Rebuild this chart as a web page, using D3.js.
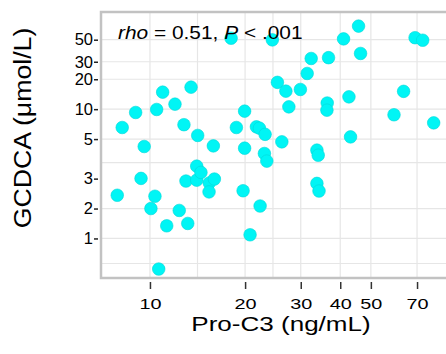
<!DOCTYPE html>
<html>
<head>
<meta charset="utf-8">
<script src="https://cdn.jsdelivr.net/npm/d3@7"></script>
<style>
  html, body { margin: 0; padding: 0; background: #fff; overflow: hidden; }
  text { font-family: "Liberation Sans", Arial, sans-serif; fill: #000; }
</style>
</head>
<body>
<div id="chart"></div>
<script>
// Pro-C3 (ng/mL) per patient
const proC3 = [7.88, 8.17, 9.01, 9.37, 9.59, 10.07, 10.37, 10.50, 10.66, 10.97,
  11.30, 12.00, 12.38, 12.81, 13.00, 13.17, 13.49, 14.06, 14.06, 14.16,
  14.50, 15.41, 15.38, 15.87, 15.99, 18.06, 18.77, 19.71, 19.93, 19.93,
  20.74, 21.72, 22.20, 22.31, 23.02, 23.14, 23.43, 24.39, 25.31, 26.14,
  26.92, 27.51, 29.92, 31.44, 32.37, 33.75, 34.07, 33.75, 34.27, 36.38,
  36.30, 36.73, 40.98, 42.62, 43.12, 45.71, 46.38, 59.18, 63.47, 69.00,
  72.94, 79.02];
// GCDCA (umol/L), in the units of the log axis
const gcdca = [1.36, 6.54, 9.26, 2.01, 4.21, 1.00, 1.33, 9.93, 0.246, 14.83,
  0.670, 11.23, 0.957, 6.98, 1.89, 0.708, 16.65, 2.67, 1.93, 5.44,
  2.31, 1.81, 1.47, 4.27, 1.98, 51.8, 6.54, 1.51, 9.55, 4.05,
  0.544, 6.64, 6.44, 1.06, 3.58, 5.58, 3.00, 49.8, 18.61, 4.69,
  15.18, 10.55, 15.79, 22.87, 32.37, 3.87, 3.44, 1.79, 1.50, 11.52,
  9.77, 32.97, 50.96, 13.30, 5.26, 68.5, 36.35, 8.78, 15.11, 52.4,
  49.4, 7.28];

const xTicks = [10, 20, 30, 40, 50, 70];
const xGrid = [10, 14.14, 20, 24.5, 30, 40, 50, 70];
const yTicks = [50, 30, 20, 10, 5, 2, 1, 0.5];
const yTickLabels = ['50', '30', '20', '10', '5', '3', '2', '1'];
const yGrid = [50, 30, 20, 10, 5, 2.9, 1, 0.5, 0.28];
const statText = [{t: 'rho', it: true}, {t: ' = 0.51, ', it: false}, {t: 'P', it: true}, {t: ' < .001', it: false}];

const width = 446, height = 354;
const plotLeft = 101, plotTop = 12, plotBottom = 278, plotRight = 466;

const svg = d3.select('#chart').append('svg')
  .attr('width', width)
  .attr('height', height);

const x = d3.scaleLog().domain([7, 100]).range([plotLeft, plotRight]);
const y = d3.scaleLog().domain([0.2, 95]).range([plotBottom, plotTop]);

// grid
svg.append('g').selectAll('line')
  .data(xGrid)
  .join('line')
  .attr('x1', d => x(d)).attr('x2', d => x(d))
  .attr('y1', plotTop).attr('y2', plotBottom)
  .attr('stroke', '#e6e6e6').attr('stroke-width', 1.2);

svg.append('g').selectAll('line')
  .data(yGrid)
  .join('line')
  .attr('x1', plotLeft).attr('x2', plotRight)
  .attr('y1', d => y(d)).attr('y2', d => y(d))
  .attr('stroke', '#e6e6e6').attr('stroke-width', 1.2);

// points
const pts = proC3.map((v, i) => ({x: v, y: gcdca[i]}));
svg.append('g').selectAll('circle')
  .data(pts)
  .join('circle')
  .attr('cx', d => x(d.x))
  .attr('cy', d => y(d.y))
  .attr('r', 6.3)
  .attr('fill', '#00f5f5')
  .attr('stroke', '#00d8d8')
  .attr('stroke-width', 0.6);

// panel border
svg.append('path')
  .attr('d', `M${plotRight + 10},${plotTop} H${plotLeft} V${plotBottom} H${plotRight + 10}`)
  .attr('fill', 'none')
  .attr('stroke', '#c2c2c2')
  .attr('stroke-width', 2.5);

// x axis
const xAxis = d3.axisBottom(x)
  .tickValues(xTicks)
  .tickFormat(d3.format('d'))
  .tickSize(7)
  .tickPadding(9);

svg.append('g')
  .attr('transform', `translate(0,${plotBottom + 4})`)
  .call(xAxis)
  .call(g => g.select('.domain').remove())
  .call(g => g.selectAll('.tick line').attr('stroke', '#333').attr('stroke-width', 1.5))
  .call(g => g.selectAll('.tick text')
    .style('font-size', '15.5px')
    .attr('fill', '#000')
    .attr('transform', 'scale(1.28,1)'));

// y axis
const yAxis = d3.axisLeft(y)
  .tickValues(yTicks)
  .tickFormat((d, i) => yTickLabels[i])
  .tickSize(4)
  .tickPadding(1);

svg.append('g')
  .attr('transform', `translate(${plotLeft - 3},0)`)
  .call(yAxis)
  .call(g => g.select('.domain').remove())
  .call(g => g.selectAll('.tick line').attr('stroke', '#222').attr('stroke-width', 1.5))
  .call(g => g.selectAll('.tick text').style('font-size', '16.5px').attr('fill', '#000'));

// axis titles
svg.append('text')
  .attr('transform', 'translate(281,331) scale(1.24,1)')
  .attr('text-anchor', 'middle')
  .style('font-size', '21px')
  .text('Pro-C3 (ng/mL)');

svg.append('text')
  .attr('transform', 'translate(31,128) rotate(-90) scale(1.16,1)')
  .attr('text-anchor', 'middle')
  .style('font-size', '23px')
  .text('GCDCA (\u03bcmol/L)');

// annotation
const stat = svg.append('text')
  .attr('transform', 'translate(118,39) scale(1.16,1)')
  .style('font-size', '18px');
stat.selectAll('tspan')
  .data(statText)
  .join('tspan')
  .style('font-style', d => d.it ? 'italic' : 'normal')
  .text(d => d.t);
</script>
</body>
</html>
